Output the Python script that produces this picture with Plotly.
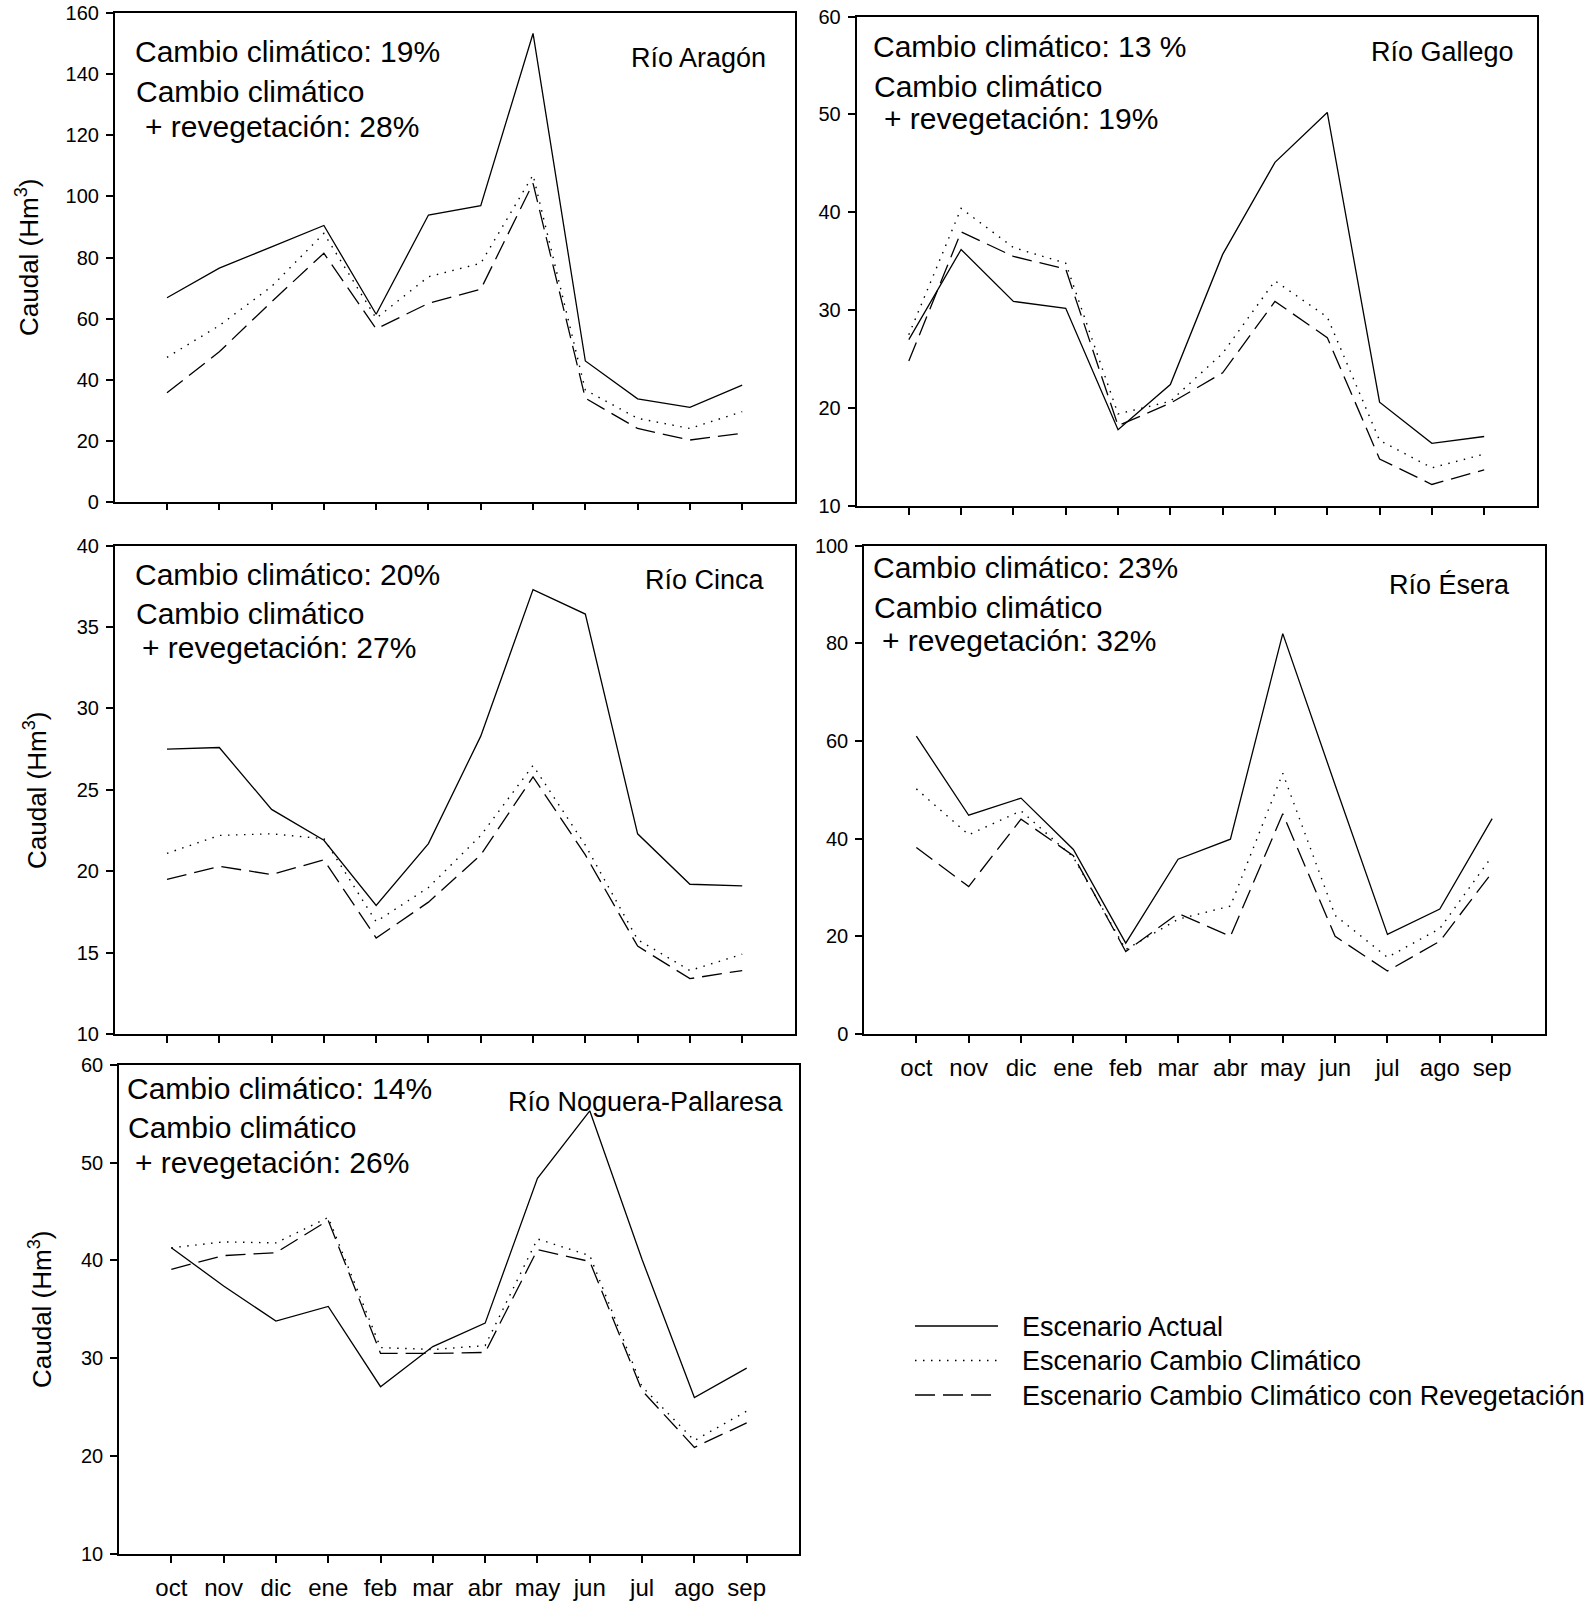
import plotly.graph_objects as go

W, H = 1594, 1605
FONT = "Liberation Sans, Arial, Helvetica, sans-serif"

months = ["oct", "nov", "dic", "ene", "feb", "mar", "abr", "may", "jun", "jul", "ago", "sep"]

series_names = ["Escenario Actual", "Escenario Cambio Climático",
                "Escenario Cambio Climático con Revegetación"]

# Río Aragón
aragon_actual = [66.8, 76.5, 83.5, 90.5, 61.4, 93.9, 97.0, 153.4, 46.1, 33.7, 30.9, 38.2]
aragon_cc = [47.3, 57.7, 70.5, 87.9, 60.1, 73.7, 78.1, 107.0, 36.6, 27.3, 24.0, 29.5]
aragon_ccr = [35.7, 49.1, 65.5, 81.4, 56.6, 65.0, 69.6, 104.3, 33.9, 24.0, 20.2, 22.4]

# Río Gallego
gallego_actual = [27.0, 36.2, 30.9, 30.2, 17.8, 22.4, 35.7, 45.1, 50.2, 20.6, 16.4, 17.1]
gallego_cc = [27.5, 40.4, 36.4, 34.8, 19.4, 20.7, 25.6, 33.0, 29.3, 16.7, 13.9, 15.3]
gallego_ccr = [24.8, 38.0, 35.5, 34.2, 18.2, 20.5, 23.6, 30.9, 27.2, 14.8, 12.2, 13.7]

# Río Cinca
cinca_actual = [27.5, 27.6, 23.8, 21.9, 17.9, 21.7, 28.3, 37.3, 35.8, 22.3, 19.2, 19.1]
cinca_cc = [21.1, 22.2, 22.3, 22.0, 16.9, 19.0, 22.2, 26.5, 21.6, 15.8, 13.9, 14.9]
cinca_ccr = [19.5, 20.3, 19.8, 20.7, 15.9, 18.1, 21.0, 25.8, 21.0, 15.4, 13.4, 13.9]

# Río Ésera
esera_actual = [61.0, 44.8, 48.3, 37.8, 18.6, 35.8, 39.9, 82.0, 51.0, 20.4, 25.6, 44.1]
esera_cc = [50.2, 40.8, 45.7, 36.2, 17.3, 23.5, 26.2, 53.4, 24.3, 15.7, 21.6, 36.4]
esera_ccr = [38.2, 30.2, 44.0, 36.5, 16.9, 24.7, 20.0, 45.1, 20.0, 12.9, 19.0, 33.1]

# Río Noguera-Pallaresa
noguera_actual = [41.3, 37.4, 33.8, 35.3, 27.1, 31.2, 33.6, 48.4, 55.3, 40.1, 26.0, 29.0]
noguera_cc = [41.3, 41.9, 41.8, 44.4, 31.1, 30.9, 31.3, 42.2, 40.5, 27.1, 21.6, 24.6]
noguera_ccr = [39.1, 40.5, 40.8, 44.1, 30.5, 30.5, 30.6, 41.1, 39.9, 26.7, 20.9, 23.4]

titles = ["Río Aragón", "Río Gallego", "Río Cinca", "Río Ésera", "Río Noguera-Pallaresa"]
cc_pct = ["19%", "13 %", "20%", "23%", "14%"]
ccr_pct = ["28%", "19%", "27%", "32%", "26%"]
y_ranges = [(0, 160, 20), (10, 60, 10), (10, 40, 5), (0, 100, 20), (10, 60, 10)]
data = [
    (aragon_actual, aragon_cc, aragon_ccr),
    (gallego_actual, gallego_cc, gallego_ccr),
    (cinca_actual, cinca_cc, cinca_ccr),
    (esera_actual, esera_cc, esera_ccr),
    (noguera_actual, noguera_cc, noguera_ccr),
]

# layout geometry in pixels: (left, right, top, bottom)
boxes = [
    (114.7, 794.5, 13.3, 501.7),
    (856.5, 1536.5, 16.5, 506.0),
    (114.7, 794.5, 545.7, 1034.0),
    (864.0, 1544.5, 545.7, 1034.0),
    (119.0, 799.0, 1064.8, 1554.0),
]
show_month_labels = [False, False, False, True, True]
# text positions (px): line1 (x, y), line2 (x, y), line3 (x, y), title (right x, y)
text_pos = [
    ((133, 52), (134, 92), (143, 127), (768, 58)),
    ((871, 46), (872, 87), (882, 119), (1516, 52)),
    ((133, 574), (134, 613), (140, 647), (767, 580)),
    ((871, 567), (872, 607), (880, 640), (1512, 585)),
    ((125, 1088), (126, 1127), (133, 1162), (786, 1102)),
]
ytitle_pos = {0: (27, 257), 2: (35, 790), 4: (40, 1309)}

styles = [
    dict(color="black", width=1.3, dash="solid"),
    dict(color="black", width=1.4, dash="1.5px,6.5px"),
    dict(color="black", width=1.3, dash="20px,8px"),
]


def px(x):
    return x / W


def py(y):
    return 1 - y / H


fig = go.Figure()
annotations = []
shapes = []

for i, (series, (lo, hi, step), box) in enumerate(zip(data, y_ranges, boxes)):
    n = "" if i == 0 else str(i + 1)
    xa, ya = "x" + n, "y" + n
    for s, name, st in zip(series, series_names, styles):
        fig.add_trace(go.Scatter(x=months, y=s, mode="lines", name=name,
                                 line=st, xaxis=xa, yaxis=ya, showlegend=False,
                                 hoverinfo="x+y+name"))
    l, r, t, b = box
    axis_common = dict(showline=True, linecolor="black", linewidth=1.5, mirror=True,
                       showgrid=False, zeroline=False, ticks="outside", ticklen=7,
                       tickwidth=1.5, tickcolor="black", automargin=False)
    fig.update_layout(**{
        "xaxis" + n: dict(domain=[px(l), px(r)], range=[-1, 12], anchor=ya,
                          type="category", categoryorder="array", categoryarray=months,
                          showticklabels=show_month_labels[i],
                          tickfont=dict(family=FONT, size=24, color="black"),
                          ticklabelstandoff=4, **axis_common),
        "yaxis" + n: dict(domain=[py(b), py(t)], range=[lo, hi], anchor=xa,
                          tickmode="linear", tick0=lo, dtick=step,
                          tickfont=dict(family=FONT, size=20, color="black"),
                          ticklabelstandoff=3, **axis_common),
    })
    (x1, y1), (x2, y2), (x3, y3), (xt, yt) = text_pos[i]
    for txt, xx, yy in [("Cambio climático: " + cc_pct[i], x1, y1),
                        ("Cambio climático", x2, y2),
                        ("+ revegetación: " + ccr_pct[i], x3, y3)]:
        annotations.append(dict(text=txt, x=px(xx), y=py(yy), xref="paper", yref="paper",
                                xanchor="left", yanchor="middle", showarrow=False,
                                font=dict(family=FONT, size=30, color="black")))
    annotations.append(dict(text=titles[i], x=px(xt), y=py(yt), xref="paper", yref="paper",
                            xanchor="right", yanchor="middle", showarrow=False,
                            font=dict(family=FONT, size=27, color="black")))
    if i in ytitle_pos:
        xx, yy = ytitle_pos[i]
        annotations.append(dict(text="Caudal (Hm<sup>3</sup>)", x=px(xx), y=py(yy),
                                xref="paper", yref="paper", textangle=-90,
                                xanchor="center", yanchor="middle", showarrow=False,
                                font=dict(family=FONT, size=26, color="black")))

# legend (drawn as keys + labels)
legend_rows = [1326, 1360.5, 1395]
for name, st, yy in zip(series_names, styles, legend_rows):
    shapes.append(dict(type="line", xref="paper", yref="paper",
                       x0=px(915), x1=px(998), y0=py(yy), y1=py(yy),
                       line=dict(color="black", width=st["width"] + 0.2, dash=st["dash"])))
    annotations.append(dict(text=name, x=px(1020), y=py(yy + 0.5), xref="paper", yref="paper",
                            xanchor="left", yanchor="middle", showarrow=False,
                            font=dict(family=FONT, size=27, color="black")))

fig.update_layout(width=W, height=H, margin=dict(l=0, r=0, t=0, b=0, autoexpand=False),
                  paper_bgcolor="white", plot_bgcolor="white",
                  annotations=annotations, shapes=shapes, showlegend=False,
                  font=dict(family=FONT, color="black"))

fig.write_html("out.html", config={"displayModeBar": False},
               post_script="document.body.style.margin='0';document.body.style.padding='0';")
